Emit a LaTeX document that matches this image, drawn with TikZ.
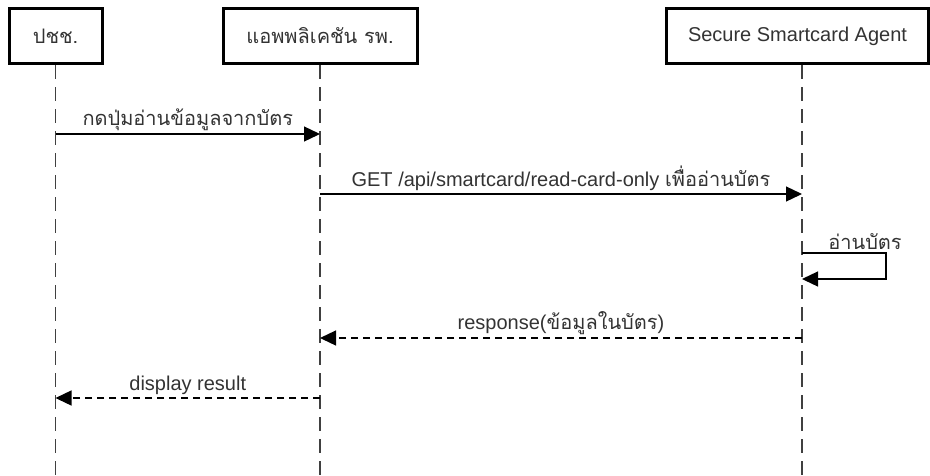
\documentclass[tikz,border=0pt]{standalone}
\usepackage{fontspec}
\setmainfont{Liberation Sans}
\newfontfamily\thai[Script=Thai]{Loma}
\usepackage{tikz}
\usetikzlibrary{arrows.meta}
\definecolor{inkgray}{HTML}{333333}
\tikzstyle{head} = [rectangle, draw, line width=3pt, minimum height=55pt, text centered,
    text=inkgray, inner sep=4pt]
\tikzstyle{life} = [draw, line width=1.6pt, dash pattern=on 14pt off 8pt, color=black!75]
\tikzstyle{call} = [draw, line width=1.3pt, -{Triangle[length=16pt,width=15pt]}]
\tikzstyle{reply} = [call, dash pattern=on 7pt off 5pt]
\tikzstyle{msglabel} = [above, inner sep=3pt, text=inkgray]

\begin{document}
\begin{tikzpicture}[x=1pt,y=-1pt,font=\fontsize{20}{24}\selectfont]
    \useasboundingbox (0,0) rectangle (930,475);
      \node [head, minimum width=93pt] (citizen) at (55.5,36) {\thai ปชช.};
      \node [head, minimum width=194pt] (hospapp) at (320,36) {\thai แอพพลิเคชัน รพ.};
      \node [head, minimum width=262pt] (agent) at (797.5,36) {Secure Smartcard Agent};

      \coordinate (agentline) at ([xshift=4.5pt]agent.south);

      % lifelines
      \path [life] (citizen.south) -- (citizen.south |- 0,475);
      \path [life] (hospapp.south) -- (hospapp.south |- 0,475);
      \path [life] (agentline) -- (agentline |- 0,475);

      % messages
      \path [call] (citizen.south |- 0,134) -- (hospapp.south |- 0,134)
          node [msglabel, midway] {\thai กดปุ่มอ่านข้อมูลจากบัตร};
      \path [call] (hospapp.south |- 0,194) -- (agentline |- 0,194)
          node [msglabel, midway] {GET /api/smartcard/read-card-only {\thai เพื่ออ่านบัตร}};
      \path [call] (agentline |- 0,253) -- ++(84,0)
          node [msglabel, midway, xshift=21pt] {\thai อ่านบัตร} -- ++(0,26) -- (agentline |- 0,279);
      \path [reply] (agentline |- 0,338) -- (hospapp.south |- 0,338)
          node [msglabel, midway] {response({\thai ข้อมูลในบัตร})};
      \path [reply] (hospapp.south |- 0,398) -- (citizen.south |- 0,398)
          node [msglabel, midway] {display result};

    \end{tikzpicture}
\end{document}
